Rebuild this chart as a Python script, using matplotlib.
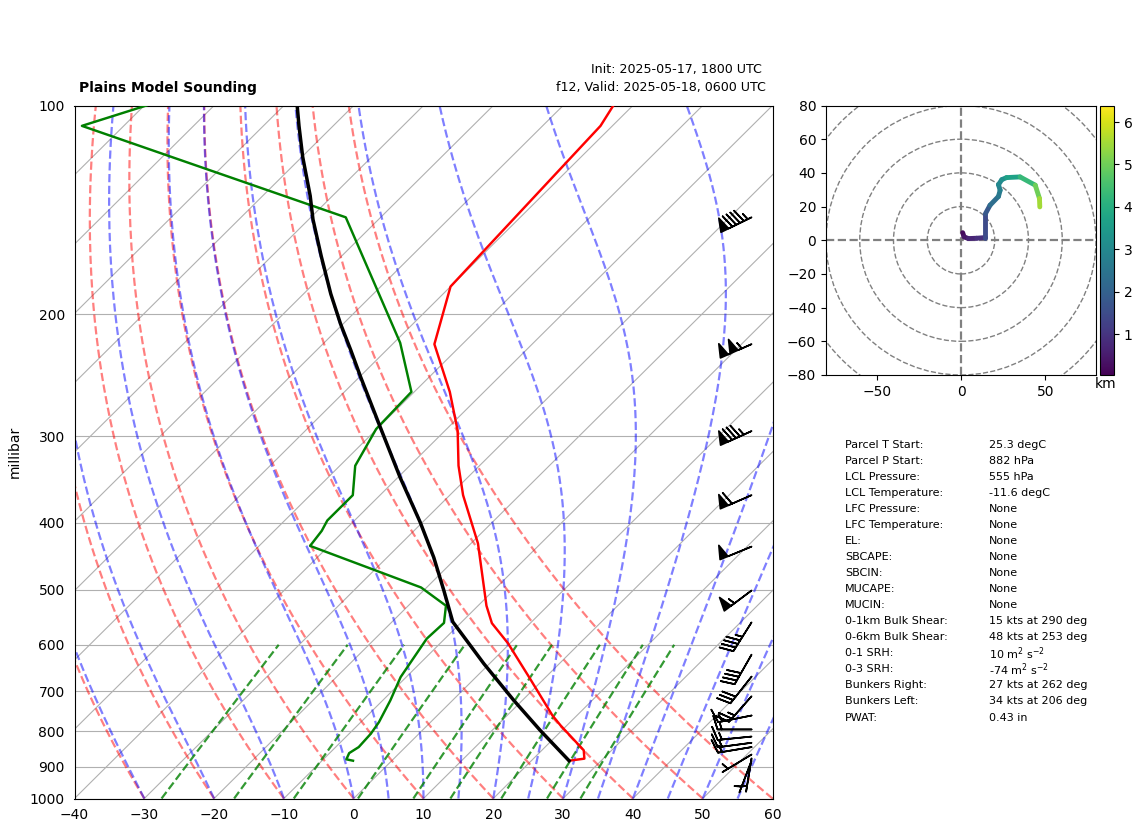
import numpy as np
import matplotlib
matplotlib.use('Agg')
import matplotlib.pyplot as plt
from matplotlib.collections import LineCollection
from matplotlib.patches import Circle
from matplotlib.ticker import FixedLocator, NullLocator, ScalarFormatter

# sounding
temp_p = [100, 107, 182.5, 221, 259, 294.5, 331, 365, 428.5, 527, 558.5, 597, 668, 759, 784.5, 852, 876, 882]
temp_t = [-62.8, -61.7, -60.0, -54.0, -44.9, -38.2, -33.0, -28.1, -19.0, -8.8, -5.5, -0.3, 7.6, 16.5, 19.1, 26.0, 27.3, 25.4]

dew_p = [100, 107, 145, 220, 259, 293, 331, 365, 397, 411, 432, 496, 527, 558, 588, 668, 722, 776, 806, 843, 860, 878, 882]
dew_t = [-129.7, -136.0, -85.0, -59.1, -50.4, -50.1, -47.8, -43.9, -43.9, -43.2, -42.7, -20.8, -14.6, -12.4, -12.6, -10.8, -8.9, -7.4, -6.9, -6.7, -7.2, -6.7, -5.55]

parcel_p = [100, 107, 118.6, 135, 146, 165, 187, 206.5, 225.5, 246.6, 290.6, 344, 399.6, 449, 501, 556, 639, 722, 798, 882]
parcel_t = [-108.1, -104.9, -99.9, -93.2, -89.4, -82.9, -76.1, -70.4, -65.1, -59.8, -49.9, -39.7, -30.3, -23.3, -17.1, -11.3, -0.8, 8.8, 16.95, 25.4]

# wind barbs (kts)
barb_p = [145, 221, 295, 365, 433, 501, 557, 620, 667, 712, 759, 795, 814, 831, 843, 864, 875, 882]
barb_u = [86, 95, 77, 55, 46, 44, 24, 20, 19, 15, 15, 15, 15, 15, 15, 4.3, 0.8, 1.8]
barb_v = [42, 42, 35, 24, 19, 33, 38, 35, 24, 17, 3, 0, 1.5, 2, 2.5, 2.6, 4.9, 4.7]

# hodograph
hodo_u = [1, 1.8, 4.4, 9.3, 14.5, 14.5, 17.2, 22.2, 23.2, 22.2, 24.2, 27, 35, 44, 46.5, 46.7]
hodo_v = [4.5, 2, 1, 1.2, 1.6, 15.8, 20.8, 26, 29.7, 33, 36, 37.2, 37.6, 32.7, 24.8, 19.8]
hodo_km = [0.04, 0.2, 0.4, 0.7, 0.9, 1.5, 1.8, 2.3, 2.6, 2.8, 3.0, 3.2, 3.7, 4.3, 5.0, 5.5]
hodo_rings = [20, 40, 60, 80, 100]

# background lines
dry_t0 = np.arange(-30, 61, 10)
moist_t0 = [-30, -20, -10, 0, 5, 10, 15, 20, 25, 30, 35, 40, 45, 50, 55]
mix_w = [0.0004, 0.001, 0.002, 0.004, 0.007, 0.01, 0.016, 0.024, 0.032]
p_ticks = [100, 200, 300, 400, 500, 600, 700, 800, 900, 1000]

stat_names = ['Parcel T Start:', 'Parcel P Start:', 'LCL Pressure:', 'LCL Temperature:',
              'LFC Pressure:', 'LFC Temperature:', 'EL:', 'SBCAPE:', 'SBCIN:', 'MUCAPE:',
              'MUCIN:', '0-1km Bulk Shear:', '0-6km Bulk Shear:', '0-1 SRH:', '0-3 SRH:',
              'Bunkers Right:', 'Bunkers Left:', 'PWAT:']
stat_vals = ['25.3 degC', '882 hPa', '555 hPa', '-11.6 degC', 'None', 'None', 'None', 'None',
             'None', 'None', 'None', '15 kts at 290 deg', '48 kts at 253 deg',
             '10 m$^{2}$ s$^{-2}$', '-74 m$^{2}$ s$^{-2}$', '27 kts at 262 deg',
             '34 kts at 206 deg', '0.43 in']


def skew(t, p):
    # 45 deg isotherms: 100 degC per decade of pressure
    return np.asarray(t, dtype=float) + 100 * np.log10(1000 / np.asarray(p, dtype=float))


def sat_mix(t_k, p):
    t_c = t_k - 273.15
    es = 6.112 * np.exp(17.67 * t_c / (t_c + 243.5))
    return 0.622 * es / (p - es)


def moist_rate(t_k, p):
    rs = sat_mix(t_k, p)
    top = 287.0 * t_k + 2.501e6 * rs
    bot = 1005.0 + 2.501e6 ** 2 * rs * 0.622 / (287.0 * t_k ** 2)
    return top / bot / p


def moist_line(t0, p):
    out = [t0 + 273.15]
    for p1, p2 in zip(p[:-1], p[1:]):
        t = out[-1]
        h = p2 - p1
        k1 = moist_rate(t, p1)
        k2 = moist_rate(t + h * k1 / 2, p1 + h / 2)
        k3 = moist_rate(t + h * k2 / 2, p1 + h / 2)
        k4 = moist_rate(t + h * k3, p2)
        out.append(t + h * (k1 + 2 * k2 + 2 * k3 + k4) / 6)
    return np.array(out) - 273.15


W, H = 1142, 832
fig = plt.figure(figsize=(W / 100, H / 100), dpi=100)


def px_axes(x0, y0, x1, y1):
    return fig.add_axes([x0 / W, 1 - y1 / H, (x1 - x0) / W, (y1 - y0) / H])


ax = px_axes(74.5, 105.5, 772.5, 798.5)
ax.set_yscale('log')
ax.set_xlim(-40, 60)
ax.set_ylim(1000, 100)
ax.yaxis.set_major_locator(FixedLocator(p_ticks))
ax.yaxis.set_major_formatter(ScalarFormatter())
ax.yaxis.set_minor_locator(NullLocator())
ax.set_xticks(np.arange(-40, 61, 10))
ax.tick_params(length=0, pad=7)
ax.set_ylabel('millibar')
ax.yaxis.set_label_coords(-0.076, 0.5)

pp = np.linspace(1000, 100, 181)
ax.grid(True, axis='y', color='#b0b0b0', lw=0.8)
ends = np.array([1000.0, 100.0])
for t0 in np.arange(-140, 61, 10):
    ax.plot(skew([t0, t0], ends), ends, color='#b0b0b0', lw=0.8, zorder=1)

for t0 in dry_t0:
    t = (t0 + 273.15) * (pp / 1000) ** 0.286 - 273.15
    ax.plot(skew(t, pp), pp, color='r', ls='--', lw=1.6, alpha=0.5, zorder=2)

for t0 in moist_t0:
    ax.plot(skew(moist_line(t0, pp), pp), pp, color='b', ls='--', lw=1.6, alpha=0.5, zorder=2)

pm = np.linspace(1000, 600, 50)
for w in mix_w:
    e = pm * w / (0.622 + w)
    a = np.log(e / 6.112)
    td = 243.5 * a / (17.67 - a)
    ax.plot(skew(td, pm), pm, color='g', ls='--', lw=1.6, alpha=0.8, zorder=2)

ax.plot(skew(temp_t, temp_p), temp_p, color='r', lw=1.75, zorder=3)
ax.plot(skew(dew_t, dew_p), dew_p, color='g', lw=1.75, zorder=3)
ax.plot(skew(parcel_t, parcel_p), parcel_p, color='k', lw=2.5, zorder=4)

ax.barbs(np.full(len(barb_p), 0.97), barb_p, barb_u, barb_v, transform=ax.get_yaxis_transform(),
         clip_on=False, length=7, linewidth=1.2, zorder=5)

fig.text(79 / W, 1 - 88 / H, 'Plains Model Sounding', fontweight='bold', fontsize=10, va='center')
fig.text(762 / W, 1 - 70 / H, 'Init: 2025-05-17, 1800 UTC', fontsize=9.05, ha='right', va='center')
fig.text(766 / W, 1 - 88 / H, 'f12, Valid: 2025-05-18, 0600 UTC', fontsize=9.1, ha='right', va='center')

# hodograph
hax = px_axes(826, 105.5, 1096, 375)
hax.set_xlim(-80, 80)
hax.set_ylim(-80, 80)
hax.set_xticks([-50, 0, 50])
hax.set_yticks(np.arange(-80, 81, 20))
for r in hodo_rings:
    hax.add_patch(Circle((0, 0), r, fill=False, ls='--', color='gray', lw=1))
hax.axhline(0, color='gray', ls='--', lw=1.6)
hax.axvline(0, color='gray', ls='--', lw=1.6)
pts = np.column_stack([hodo_u, hodo_v])
segs = np.stack([pts[:-1], pts[1:]], axis=1)
lc = LineCollection(segs, cmap='viridis', linewidths=3.5, capstyle='round')
lc.set_array(np.array(hodo_km[1:]))
lc.set_clim(0.04, 6.39)
hax.add_collection(lc)

cax = px_axes(1100, 105.5, 1114, 375)
fig.colorbar(lc, cax=cax, ticks=[1, 2, 3, 4, 5, 6])
fig.text(1106 / W, 1 - 384 / H, 'km', ha='center', va='center', fontsize=10)

# stats table
for i, (name, val) in enumerate(zip(stat_names, stat_vals)):
    y = 1 - (444.5 + i * 16.06) / H
    fig.text(845 / W, y, name, fontsize=8, va='center')
    fig.text(989 / W, y, val, fontsize=8, va='center')

fig.savefig('out.png', dpi=100)
